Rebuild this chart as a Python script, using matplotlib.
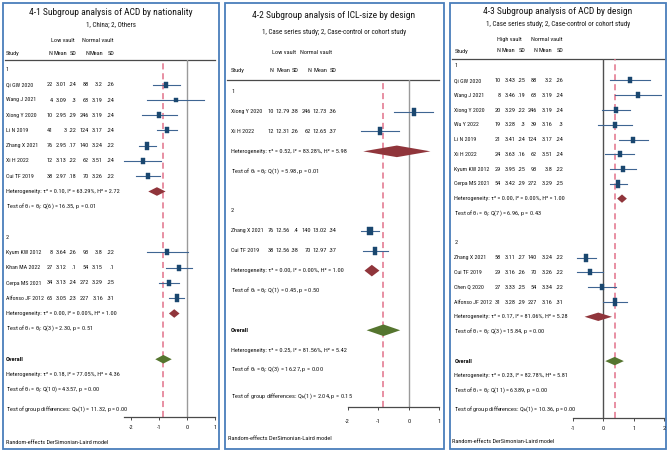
import matplotlib
matplotlib.use('Agg')
import matplotlib.pyplot as plt
from matplotlib import font_manager as fm
from matplotlib.markers import MarkerStyle
from matplotlib.transforms import Affine2D
from matplotlib.patches import Rectangle

# the reference uses a very narrow font: pick the narrowest sans face installed
NARROW = ('condensed', 'semi-condensed', 'extra-condensed', 'ultra-condensed')
prefs = ['Liberation Sans Narrow', 'Roboto Condensed', 'Roboto', 'Noto Sans', 'Open Sans',
         'DejaVu Sans', 'Lato', 'Inter']
cands = []
for f in fm.fontManager.ttflist:
    nm = f.name
    if 'Mono' in nm or 'Serif' in nm or f.style != 'normal' or f.weight != 400:
        continue
    if 'Narrow' in nm or 'Condensed' in nm or f.stretch in NARROW:
        rank = next((k for k, pr in enumerate(prefs) if nm.startswith(pr)), len(prefs))
        cands.append((rank, nm, f.stretch))
cands.sort()
if cands:
    FONT, STRETCH, SCALE = cands[0][1], cands[0][2], 1.0
else:
    FONT, STRETCH, SCALE = 'Liberation Sans', 'normal', 0.83
plt.rcParams['font.family'] = [FONT, 'DejaVu Sans']
plt.rcParams['font.stretch'] = STRETCH
plt.rcParams['mathtext.default'] = 'regular'

# ---------------- data ----------------
# 4-1 ACD by nationality (low vault vs normal vault)
p1_study = ['Qi GW 2020', 'Wang J 2021', 'Xiong Y 2020', 'Li N 2019', 'Zhang X 2021',
            'Xi H 2022', 'Cui TF 2019', 'Kyum KW 2012', 'Khan MA 2022', 'Cerpa MS 2021',
            'Alfonso JF 2012']
p1_group = [1, 1, 1, 1, 1, 1, 1, 2, 2, 2, 2]
p1_n1 = [22, 4, 10, 41, 76, 12, 38, 8, 27, 34, 65]
p1_m1 = [3.01, 3.09, 2.95, 3, 2.95, 3.13, 2.97, 3.64, 3.12, 3.13, 3.05]
p1_sd1 = [.24, .3, .29, .22, .17, .22, .18, .26, .1, .24, .23]
p1_n2 = [88, 68, 246, 124, 140, 62, 70, 93, 54, 272, 227]
p1_m2 = [3.2, 3.19, 3.19, 3.17, 3.24, 3.51, 3.26, 3.8, 3.15, 3.29, 3.16]
p1_sd2 = [.26, .24, .24, .24, .22, .24, .22, .22, .1, .25, .31]
p1_es = [-0.74, -0.41, -0.99, -0.72, -1.42, -1.59, -1.39, -0.71, -0.30, -0.64, -0.37]
p1_lo = [-1.21, -1.42, -1.63, -1.08, -1.73, -2.26, -1.83, -1.44, -0.76, -1.00, -0.65]
p1_hi = [-0.26, 0.60, -0.35, -0.36, -1.11, -0.92, -0.96, 0.02, 0.17, -0.28, -0.10]
p1_wt = [9.4, 5.1, 7.9, 10.6, 11.0, 7.6, 9.8, 7.1, 9.6, 10.6, 11.3]
p1_sub_es = [-1.08, -0.46]
p1_sub_lo = [-1.39, -0.65]
p1_sub_hi = [-0.77, -0.27]
p1_all = [-0.85, -1.14, -0.55]
p1_het = ['Heterogeneity: τ² = 0.10, I² = 63.29%, H² = 2.72',
          'Heterogeneity: τ² = 0.00, I² = 0.00%, H² = 1.00',
          'Heterogeneity: τ² = 0.18, I² = 77.05%, H² = 4.36']
p1_test = ['Test of θ$_i$ = θ$_j$: Q(6) = 16.35, p = 0.01',
           'Test of θ$_i$ = θ$_j$: Q(3) = 2.30, p = 0.51',
           'Test of θ$_i$ = θ$_j$: Q(10) = 43.57, p = 0.00']
p1_gdiff = 'Test of group differences: Q$_b$(1) = 11.32, p = 0.00'

# 4-2 ICL-size by design
p2_study = ['Xiong Y 2020', 'Xi H 2022', 'Zhang X 2021', 'Cui TF 2019']
p2_group = [1, 1, 2, 2]
p2_n1 = [10, 12, 76, 38]
p2_m1 = [12.79, 12.31, 12.56, 12.56]
p2_sd1 = [.38, .26, .4, .38]
p2_n2 = [246, 62, 140, 70]
p2_m2 = [12.73, 12.65, 13.02, 12.97]
p2_sd2 = [.36, .37, .34, .37]
p2_es = [0.17, -0.95, -1.27, -1.09]
p2_lo = [-0.47, -1.58, -1.57, -1.51]
p2_hi = [0.80, -0.31, -0.96, -0.67]
p2_wt = [22.3, 22.2, 28.8, 26.7]
p2_sub_es = [-0.39, -1.21]
p2_sub_lo = [-1.49, -1.45]
p2_sub_hi = [0.71, -0.96]
p2_all = [-0.83, -1.38, -0.28]
p2_het = ['Heterogeneity: τ² = 0.52, I² = 83.28%, H² = 5.98',
          'Heterogeneity: τ² = 0.00, I² = 0.00%, H² = 1.00',
          'Heterogeneity: τ² = 0.25, I² = 81.56%, H² = 5.42']
p2_test = ['Test of θ$_i$ = θ$_j$: Q(1) = 5.98, p = 0.01',
           'Test of θ$_i$ = θ$_j$: Q(1) = 0.45, p = 0.50',
           'Test of θ$_i$ = θ$_j$: Q(3) = 16.27, p = 0.00']
p2_gdiff = 'Test of group differences: Q$_b$(1) = 2.04, p = 0.15'

# 4-3 ACD by design (high vault vs normal vault)
p3_study = ['Qi GW 2020', 'Wang J 2021', 'Xiong Y 2020', 'Wu Y 2022', 'Li N 2019',
            'Xi H 2022', 'Kyum KW 2012', 'Cerpa MS 2021', 'Zhang X 2021', 'Cui TF 2019',
            'Chen Q 2020', 'Alfonso JF 2012']
p3_group = [1, 1, 1, 1, 1, 1, 1, 1, 2, 2, 2, 2]
p3_n1 = [10, 8, 20, 19, 21, 24, 29, 54, 58, 29, 27, 31]
p3_m1 = [3.43, 3.46, 3.29, 3.28, 3.41, 3.63, 3.95, 3.42, 3.11, 3.16, 3.33, 3.28]
p3_sd1 = [.25, .19, .22, .3, .24, .16, .25, .29, .27, .26, .25, .29]
p3_n2 = [88, 68, 246, 39, 124, 62, 93, 272, 140, 70, 54, 227]
p3_m2 = [3.2, 3.19, 3.19, 3.16, 3.17, 3.51, 3.8, 3.29, 3.24, 3.26, 3.34, 3.16]
p3_sd2 = [.26, .24, .24, .3, .24, .24, .22, .25, .22, .22, .22, .31]
p3_es = [0.88, 1.13, 0.42, 0.39, 0.99, 0.54, 0.66, 0.50, -0.55, -0.43, -0.04, 0.39]
p3_lo = [0.22, 0.38, -0.04, -0.16, 0.52, 0.06, 0.23, 0.21, -0.86, -0.86, -0.51, 0.01]
p3_hi = [1.55, 1.89, 0.88, 0.95, 1.47, 1.02, 1.08, 0.80, -0.24, 0.01, 0.42, 0.77]
p3_wt = [7.0, 6.4, 8.5, 7.8, 8.3, 8.3, 8.7, 9.5, 9.4, 8.6, 8.4, 9.0]
p3_sub_es = [0.62, -0.16]
p3_sub_lo = [0.46, -0.61]
p3_sub_hi = [0.78, 0.29]
p3_all = [0.38, 0.07, 0.68]
p3_het = ['Heterogeneity: τ² = 0.00, I² = 0.00%, H² = 1.00',
          'Heterogeneity: τ² = 0.17, I² = 81.06%, H² = 5.28',
          'Heterogeneity: τ² = 0.23, I² = 82.78%, H² = 5.81']
p3_test = ['Test of θ$_i$ = θ$_j$: Q(7) = 6.96, p = 0.43',
           'Test of θ$_i$ = θ$_j$: Q(3) = 15.84, p = 0.00',
           'Test of θ$_i$ = θ$_j$: Q(11) = 63.89, p = 0.00']
p3_gdiff = 'Test of group differences: Q$_b$(1) = 10.36, p = 0.00'

# ---------------- layout (pixels of the 669x451 image) ----------------
W, H = 669, 451
NAVY = '#1a476f'
WHISK = '#3f6592'
MAROON = '#90353b'
GREEN = '#55752f'
PINK = '#e2728a'
BORDER = '#4a7ebb'
TXT = '#141414'

panels = [
    dict(title='4-1 Subgroup analysis of ACD by nationality', sub='1, China; 2, Others',
         hdr=('Low vault', 'Normal vault'),
         study=p1_study, group=p1_group, cols=(p1_n1, p1_m1, p1_sd1, p1_n2, p1_m2, p1_sd2),
         es=p1_es, lo=p1_lo, hi=p1_hi, wt=p1_wt, ses=p1_sub_es, slo=p1_sub_lo, shi=p1_sub_hi,
         ov=p1_all, het=p1_het, test=p1_test, gdiff=p1_gdiff,
         box=(3, 219), tx=6, colx=(52.5, 67, 76.5, 89, 103, 114), hdrx=(62.5, 97.5),
         y_title=12.7, y_sub=25, y_hdr=40.7, y_col=53.3, y_line=60, y0=69.5, dy=15.25,
         gextra=1.25, y_axis=417, y_note=442, xr=(124, 215), xlim=(-2.26, 1.0),
         ticks=[-2, -1, 0, 1], lpad=3.0, dh=4.3, base=5.2, fs=4.5, zero='#9a9a9a'),
    dict(title='4-2 Subgroup analysis of ICL-size by design',
         sub='1, Case series study; 2, Case-control or cohort study',
         hdr=('Low vault', 'Normal vault'),
         study=p2_study, group=p2_group, cols=(p2_n1, p2_m1, p2_sd1, p2_n2, p2_m2, p2_sd2),
         es=p2_es, lo=p2_lo, hi=p2_hi, wt=p2_wt, ses=p2_sub_es, slo=p2_sub_lo, shi=p2_sub_hi,
         ov=p2_all, het=p2_het, test=p2_test, gdiff=p2_gdiff,
         box=(224.5, 443.5), tx=231, colx=(273.5, 290, 298.5, 311, 327, 336.5), hdrx=(284, 316),
         y_title=15, y_sub=33, y_hdr=53, y_col=70.7, y_line=80, y0=91.7, dy=19.88,
         gextra=1.3, y_axis=406.7, y_note=438.3, xr=(347.7, 439.3), xlim=(-2.0, 1.0),
         ticks=[-2, -1, 0, 1], lpad=6.0, dh=5.8, base=6.0, fs=4.6, zero='#9a9a9a'),
    dict(title='4-3 Subgroup analysis of ACD by design',
         sub='1, Case series study; 2, Case-control or cohort study',
         hdr=('High vault', 'Normal vault'),
         study=p3_study, group=p3_group, cols=(p3_n1, p3_m1, p3_sd1, p3_n2, p3_m2, p3_sd2),
         es=p3_es, lo=p3_lo, hi=p3_hi, wt=p3_wt, ses=p3_sub_es, slo=p3_sub_lo, shi=p3_sub_hi,
         ov=p3_all, het=p3_het, test=p3_test, gdiff=p3_gdiff,
         box=(449.5, 666), tx=454.3, colx=(500.5, 515.5, 525.3, 537, 552.5, 563), hdrx=(509, 546.5),
         y_title=11.7, y_sub=24, y_hdr=39.3, y_col=51, y_line=59.3, y0=65.7, dy=14.77,
         gextra=1.24, y_axis=418.3, y_note=441.7, xr=(572.7, 664), xlim=(-1.0, 2.0),
         ticks=[-1, 0, 1, 2], lpad=3.0, dh=4.2, base=5.2, fs=4.5, zero='#505050'),
]


def fmt(v):
    s = f'{v:g}'
    if s.startswith('0.'):
        s = s[1:]
    return s


fig = plt.figure(figsize=(W / 100, H / 100), dpi=100)
fig.patch.set_facecolor('white')

# one overlay in image pixels for the table text and frames
bg = fig.add_axes([0, 0, 1, 1])
bg.set_xlim(0, W)
bg.set_ylim(H, 0)
bg.axis('off')

rect_marker = MarkerStyle('s', transform=Affine2D().scale(0.62, 1.0))

for p in panels:
    x0, x1 = p['box']
    fs = p['fs'] * SCALE
    cx = (x0 + x1) / 2
    bg.add_patch(Rectangle((x0, 2.5), x1 - x0, 446, fill=False, ec=BORDER, lw=1.3))

    bg.text(cx, p['y_title'], p['title'], ha='center', va='center', fontsize=6.8 * SCALE, color=TXT)
    bg.text(cx, p['y_sub'], p['sub'], ha='center', va='center', fontsize=5.0 * SCALE, color=TXT)
    for hx, h in zip(p['hdrx'], p['hdr']):
        bg.text(hx, p['y_hdr'], h, ha='center', va='center', fontsize=fs, color=TXT)
    bg.text(p['tx'], p['y_col'], 'Study', ha='left', va='center', fontsize=fs, color=TXT)
    for cxr, h in zip(p['colx'], ['N', 'Mean', 'SD', 'N', 'Mean', 'SD']):
        bg.text(cxr, p['y_col'], h, ha='right', va='center', fontsize=fs, color=TXT)
    bg.plot([x0 + 2, p['xr'][1]], [p['y_line'], p['y_line']], color='#4a4a4a', lw=0.9)

    def ry(r):
        return p['y0'] + r * p['dy']

    # row positions
    study_y = [0.0] * len(p['study'])
    sub_y = []
    test_y = []
    r = 0
    for g in (1, 2):
        bg.text(p['tx'], ry(r), str(g), ha='left', va='center', fontsize=fs, color=TXT)
        r += 1
        for i, gi in enumerate(p['group']):
            if gi == g:
                study_y[i] = ry(r)
                r += 1
        sub_y.append(ry(r))
        test_y.append(ry(r + 1))
        r += 3
    ov_y = ry(r)
    sub_y.append(ry(r + 1))
    test_y.append(ry(r + 2))
    gd_y = ry(r + 2 + p['gextra'])

    for i, name in enumerate(p['study']):
        y = study_y[i]
        bg.text(p['tx'], y, name, ha='left', va='center', fontsize=fs * 0.95, color=TXT)
        for cxr, col in zip(p['colx'], p['cols']):
            bg.text(cxr, y, fmt(col[i]), ha='right', va='center', fontsize=fs, color=TXT)
    for k in range(3):
        bg.text(p['tx'], sub_y[k], p['het'][k], ha='left', va='center', fontsize=fs, color=TXT)
        bg.text(p['tx'], test_y[k], p['test'][k], ha='left', va='center', fontsize=fs, color=TXT)
    bg.text(p['tx'], ov_y, 'Overall', ha='left', va='center', fontsize=fs, color=TXT,
            fontweight='bold')
    bg.text(p['tx'], gd_y, p['gdiff'], ha='left', va='center', fontsize=fs, color=TXT)
    bg.text(x0 + 3, p['y_note'], 'Random-effects DerSimonian-Laird model', ha='left',
            va='center', fontsize=fs, color=TXT)

    # forest part: effect sizes on their own x scale, rows share the pixel y scale
    xl, xr = p['xr']
    ax = fig.add_axes([xl / W, 1 - p['y_axis'] / H, (xr - xl) / W, (p['y_axis'] - p['y_line']) / H])
    ax.patch.set_visible(False)
    ax.set_xlim(*p['xlim'])
    ax.set_ylim(p['y_axis'], p['y_line'])
    for s in ('top', 'left', 'right'):
        ax.spines[s].set_visible(False)
    ax.spines['bottom'].set_color('#4a4a4a')
    ax.spines['bottom'].set_linewidth(0.9)
    ax.set_yticks([])
    ax.set_xticks(p['ticks'])
    ax.set_xticklabels([str(t) for t in p['ticks']])
    ax.tick_params(axis='x', direction='out', length=2.5, width=0.7, color='#4a4a4a',
                   labelsize=fs, labelcolor=TXT, pad=p['lpad'])

    ax.axvline(0, color=p['zero'], lw=1.0, zorder=1)
    ax.axvline(p['ov'][0], color=PINK, lw=1.1, ls=(0, (4, 2.5)), zorder=1)

    wmax = max(p['wt'])
    for i in range(len(p['study'])):
        y = study_y[i]
        ax.plot([p['lo'][i], p['hi'][i]], [y, y], color=WHISK, lw=0.8, zorder=2, clip_on=False)
        ms = p['base'] * (p['wt'][i] / wmax) ** 0.5
        ax.plot(p['es'][i], y, marker=rect_marker, ms=ms, color=NAVY, mec=NAVY, mew=0.3,
                zorder=3, clip_on=False)

    dh = p['dh']
    for k in range(2):
        e, lo, hi = p['ses'][k], p['slo'][k], p['shi'][k]
        y = sub_y[k]
        ax.fill([lo, e, hi, e], [y, y - dh, y, y + dh], color=MAROON, lw=0, zorder=3, clip_on=False)
    e, lo, hi = p['ov']
    ax.fill([lo, e, hi, e], [ov_y, ov_y - dh, ov_y, ov_y + dh], color=GREEN, lw=0, zorder=3,
            clip_on=False)

fig.savefig('out.png', dpi=100, facecolor='white')
